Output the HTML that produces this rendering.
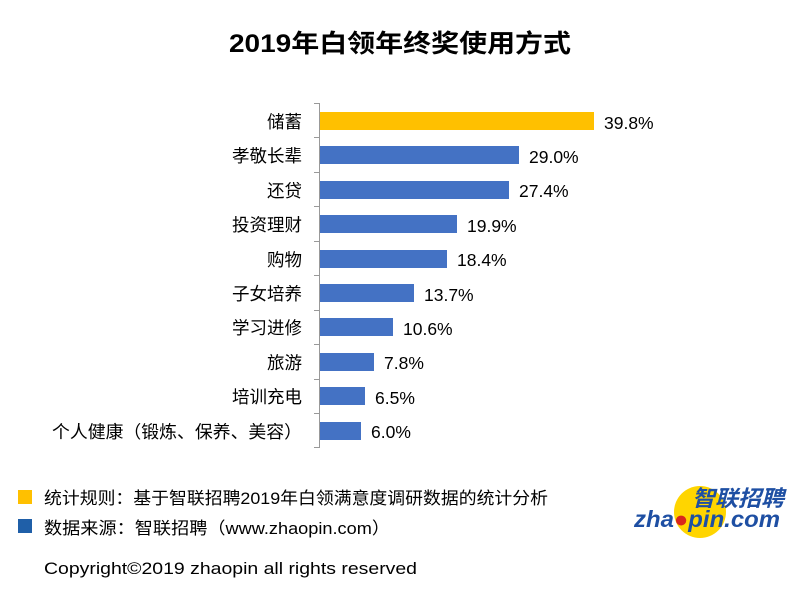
<!DOCTYPE html>
<html><head><meta charset="utf-8"><style>
body{margin:0;background:#fff;}
svg{display:block;font-family:"Liberation Sans","Noto Sans CJK SC",sans-serif;}
</style></head><body>
<svg width="800" height="590" viewBox="0 0 800 590" xmlns="http://www.w3.org/2000/svg">
<rect width="800" height="590" fill="#fff"/>
<text x="229" y="52" font-size="25" font-weight="bold" fill="#000" textLength="342" lengthAdjust="spacingAndGlyphs">2019年白领年终奖使用方式</text>
<line x1="319.5" y1="103" x2="319.5" y2="448" stroke="#999" stroke-width="1"/>
<g stroke="#999" stroke-width="1">
<line x1="314" y1="103.5" x2="319" y2="103.5"/>
<line x1="314" y1="137.5" x2="319" y2="137.5"/>
<line x1="314" y1="172.5" x2="319" y2="172.5"/>
<line x1="314" y1="206.5" x2="319" y2="206.5"/>
<line x1="314" y1="241.5" x2="319" y2="241.5"/>
<line x1="314" y1="275.5" x2="319" y2="275.5"/>
<line x1="314" y1="310.5" x2="319" y2="310.5"/>
<line x1="314" y1="344.5" x2="319" y2="344.5"/>
<line x1="314" y1="379.5" x2="319" y2="379.5"/>
<line x1="314" y1="413.5" x2="319" y2="413.5"/>
<line x1="314" y1="447.5" x2="319" y2="447.5"/>
</g>
<g font-size="17.5" fill="#000">
<rect x="320" y="112" width="274" height="18" fill="#FFC000"/>
<text x="302" y="128" text-anchor="end">储蓄</text><text x="604" y="129">39.8%</text>
<rect x="320" y="146" width="199" height="18" fill="#4472C4"/>
<text x="302" y="162" text-anchor="end">孝敬长辈</text><text x="529" y="163">29.0%</text>
<rect x="320" y="181" width="189" height="18" fill="#4472C4"/>
<text x="302" y="197" text-anchor="end">还贷</text><text x="519" y="197">27.4%</text>
<rect x="320" y="215" width="137" height="18" fill="#4472C4"/>
<text x="302" y="231" text-anchor="end">投资理财</text><text x="467" y="232">19.9%</text>
<rect x="320" y="250" width="127" height="18" fill="#4472C4"/>
<text x="302" y="266" text-anchor="end">购物</text><text x="457" y="266">18.4%</text>
<rect x="320" y="284" width="94" height="18" fill="#4472C4"/>
<text x="302" y="300" text-anchor="end">子女培养</text><text x="424" y="301">13.7%</text>
<rect x="320" y="318" width="73" height="18" fill="#4472C4"/>
<text x="302" y="334" text-anchor="end">学习进修</text><text x="403" y="335">10.6%</text>
<rect x="320" y="353" width="54" height="18" fill="#4472C4"/>
<text x="302" y="369" text-anchor="end">旅游</text><text x="384" y="369">7.8%</text>
<rect x="320" y="387" width="45" height="18" fill="#4472C4"/>
<text x="302" y="403" text-anchor="end">培训充电</text><text x="375" y="404">6.5%</text>
<rect x="320" y="422" width="41" height="18" fill="#4472C4"/>
<text x="52" y="438" textLength="250" lengthAdjust="spacingAndGlyphs">个人健康（锻炼、保养、美容）</text><text x="371" y="438">6.0%</text>
</g>
<rect x="18" y="490" width="14" height="14" fill="#FFC000"/>
<rect x="18" y="519" width="14" height="14" fill="#1F5FA8"/>
<text x="44" y="504" font-size="17" fill="#000" textLength="504" lengthAdjust="spacingAndGlyphs">统计规则：基于智联招聘2019年白领满意度调研数据的统计分析</text>
<text x="44" y="534" font-size="17" fill="#000" textLength="346" lengthAdjust="spacingAndGlyphs">数据来源：智联招聘（www.zhaopin.com）</text>
<text x="44" y="574" font-size="17" fill="#000" textLength="373" lengthAdjust="spacingAndGlyphs">Copyright©2019 zhaopin all rights reserved</text>
<circle cx="700" cy="512" r="26" fill="#FFD500"/>
<text x="692" y="506" font-size="22" font-weight="bold" font-style="italic" fill="#1E4FA3" textLength="92" lengthAdjust="spacingAndGlyphs">智联招聘</text>
<text x="634" y="527" font-size="23" font-weight="bold" font-style="italic" fill="#1E4FA3" textLength="146" lengthAdjust="spacingAndGlyphs">zha<tspan fill="#D9261C">●</tspan>pin.com</text>
</svg>
</body></html>
